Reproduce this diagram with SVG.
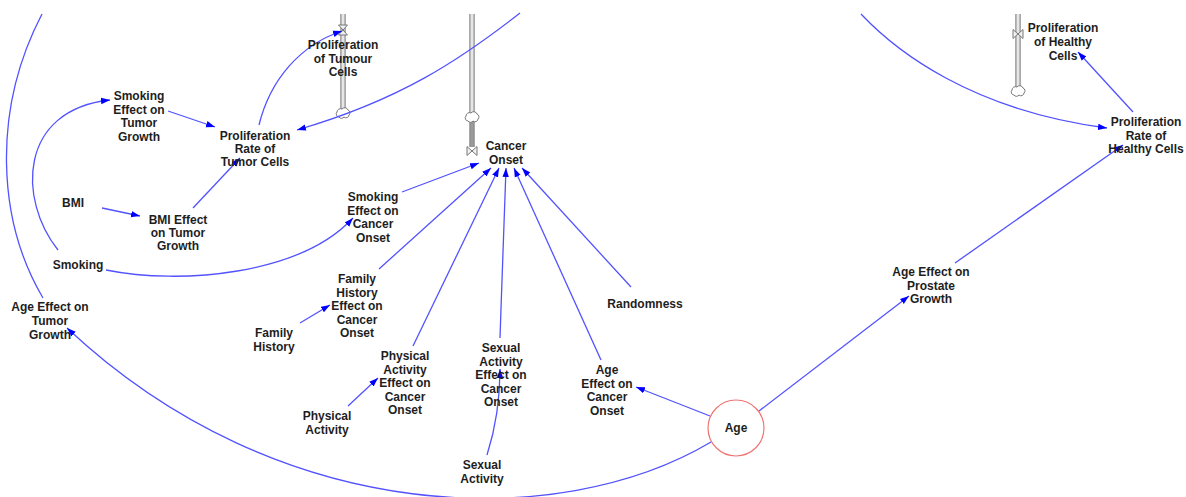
<svg xmlns="http://www.w3.org/2000/svg" width="1186" height="497" viewBox="0 0 1186 497">
  <defs>
    <style>
      .lbl { font-family: "Liberation Sans", Arial, sans-serif; font-size: 12px; font-weight: bold; fill: #1e1e1e; text-anchor: middle; }
      .link { fill: none; stroke: #5252ff; stroke-width: 1.3; }
      .arrow { marker-end: url(#ah); }
      .pipe-out { fill: none; stroke: #8c8c8c; stroke-width: 5.5; }
      .pipe-in { fill: none; stroke: #e6e6e6; stroke-width: 3; }
      .pipe-in-dark { fill: none; stroke: #9a9a9a; stroke-width: 3; }
      .valve { fill: #f2f2f2; stroke: #777; stroke-width: 1; }
      .cloud { fill: #fff; stroke: #777; stroke-width: 1; }
      .aux { fill: #fff; stroke: #f07272; stroke-width: 1.2; }
    </style>
    <marker id="ah" markerWidth="10" markerHeight="8" refX="9" refY="3.5" orient="auto" markerUnits="userSpaceOnUse">
      <path d="M0,0.3 L9,3.5 L0,6.7 z" fill="#0000ff"/>
    </marker>
    <path id="cloud-shape" class="cloud" d="M-4,4 a3,3 0 0 1 -2,-5 a3.5,3.5 0 0 1 5,-3 a3.5,3.5 0 0 1 6,1 a3,3 0 0 1 1,5 a3,3 0 0 1 -5,2 a3,3 0 0 1 -5,0 z"/>
    <path id="valve-v" class="valve" d="M-4.5,-5 L4.5,-5 L-4.5,5 L4.5,5 Z"/>
    <path id="valve-h" class="valve" d="M-5,-4.5 L5,4.5 L5,-4.5 L-5,4.5 Z"/>
  </defs>

  <rect width="1186" height="497" fill="#fff"/>

  <!-- stock/flow pipes -->
  <g id="flow-tumour">
    <path class="pipe-out" d="M343,14 V109"/>
    <path class="pipe-in" d="M343,14 V109"/>
    <use href="#valve-v" x="343" y="30"/>
    <use href="#cloud-shape" x="343" y="113"/>
  </g>
  <g id="flow-cancer-onset">
    <path class="pipe-out" d="M472,14 V113"/>
    <path class="pipe-in" d="M472,14 V113"/>
    <path class="pipe-out" d="M472,121 V147"/>
    <path class="pipe-in-dark" d="M472,121 V147"/>
    <use href="#cloud-shape" x="472" y="117"/>
    <use href="#valve-h" x="472" y="151"/>
  </g>
  <g id="flow-healthy">
    <path class="pipe-out" d="M1018,14 V87"/>
    <path class="pipe-in" d="M1018,14 V87"/>
    <use href="#valve-h" x="1018" y="34"/>
    <use href="#cloud-shape" x="1018" y="91"/>
  </g>

  <!-- connectors -->
  <g id="connectors">
    <path class="link arrow" d="M168,111 L215,127"/>
    <path class="link arrow" d="M102,208 L140,216"/>
    <path class="link arrow" d="M193,208 L240,158"/>
    <path class="link arrow" d="M58,250 C18,200 18,110 110,100"/>
    <path class="link arrow" d="M259,125 C270,80 300,45 342,31"/>
    <path class="link arrow" d="M520,13 C460,60 400,100 297,130"/>
    <path class="link arrow" d="M106,270 C180,285 300,275 353,218"/>
    <path class="link arrow" d="M402,192 L479,163"/>
    <path class="link arrow" d="M300,323 L330,305"/>
    <path class="link arrow" d="M379,269 L491,168"/>
    <path class="link arrow" d="M348,406 L378,378"/>
    <path class="link arrow" d="M413,346 L499,168"/>
    <path class="link arrow" d="M487,455 C495,430 500,400 500,369"/>
    <path class="link arrow" d="M500,338 C502,280 504,220 506,168"/>
    <path class="link arrow" d="M601,360 L514,168"/>
    <path class="link arrow" d="M631,287 L522,168"/>
    <path class="link arrow" d="M710,416 L636,387"/>
    <path class="link arrow" d="M759,411 L909,296"/>
    <path class="link arrow" d="M955,263 L1123,145"/>
    <path class="link arrow" d="M861,14 C895,50 970,110 1107,128"/>
    <path class="link arrow" d="M1133,112 L1078,52"/>
    <path class="link arrow" d="M711,442 C560,532 280,528 67,328"/>
    <path class="link" d="M43,298 C-3,220 -8,110 42,14"/>
  </g>

  <!-- nodes -->
  <g id="proliferation-of-tumour-cells">
    <text class="lbl" x="343" y="49">Proliferation<tspan x="343" dy="13.5">of Tumour</tspan><tspan x="343" dy="13.5">Cells</tspan></text>
  </g>
  <g id="cancer-onset">
    <text class="lbl" x="506" y="150">Cancer<tspan x="506" dy="13.5">Onset</tspan></text>
  </g>
  <g id="proliferation-of-healthy-cells">
    <text class="lbl" x="1063" y="32">Proliferation<tspan x="1063" dy="14">of Healthy</tspan><tspan x="1063" dy="14">Cells</tspan></text>
  </g>
  <g id="proliferation-rate-of-healthy-cells">
    <text class="lbl" x="1146" y="126">Proliferation<tspan x="1146" dy="13.5">Rate of</tspan><tspan x="1146" dy="13.5">Healthy Cells</tspan></text>
  </g>
  <g id="age-effect-on-prostate-growth">
    <text class="lbl" x="931" y="276">Age Effect on<tspan x="931" dy="13.5">Prostate</tspan><tspan x="931" dy="13.5">Growth</tspan></text>
  </g>
  <g id="age">
    <circle class="aux" cx="736" cy="428" r="28"/>
    <text class="lbl" x="736" y="432">Age</text>
  </g>
  <g id="age-effect-on-cancer-onset">
    <text class="lbl" x="607" y="374">Age<tspan x="607" dy="13.5">Effect on</tspan><tspan x="607" dy="13.5">Cancer</tspan><tspan x="607" dy="13.5">Onset</tspan></text>
  </g>
  <g id="randomness">
    <text class="lbl" x="645" y="308">Randomness</text>
  </g>
  <g id="sexual-activity-effect-on-cancer-onset">
    <text class="lbl" x="501" y="352">Sexual<tspan x="501" dy="13.6">Activity</tspan><tspan x="501" dy="13.6">Effect on</tspan><tspan x="501" dy="13.6">Cancer</tspan><tspan x="501" dy="13.6">Onset</tspan></text>
  </g>
  <g id="sexual-activity">
    <text class="lbl" x="482" y="469">Sexual<tspan x="482" dy="13.5">Activity</tspan></text>
  </g>
  <g id="physical-activity-effect-on-cancer-onset">
    <text class="lbl" x="405" y="360">Physical<tspan x="405" dy="13.5">Activity</tspan><tspan x="405" dy="13.5">Effect on</tspan><tspan x="405" dy="13.5">Cancer</tspan><tspan x="405" dy="13.5">Onset</tspan></text>
  </g>
  <g id="physical-activity">
    <text class="lbl" x="327" y="420">Physical<tspan x="327" dy="13.5">Activity</tspan></text>
  </g>
  <g id="family-history-effect-on-cancer-onset">
    <text class="lbl" x="357" y="283">Family<tspan x="357" dy="13.5">History</tspan><tspan x="357" dy="13.5">Effect on</tspan><tspan x="357" dy="13.5">Cancer</tspan><tspan x="357" dy="13.5">Onset</tspan></text>
  </g>
  <g id="family-history">
    <text class="lbl" x="274" y="337">Family<tspan x="274" dy="13.5">History</tspan></text>
  </g>
  <g id="smoking-effect-on-cancer-onset">
    <text class="lbl" x="373" y="201">Smoking<tspan x="373" dy="13.7">Effect on</tspan><tspan x="373" dy="13.7">Cancer</tspan><tspan x="373" dy="13.7">Onset</tspan></text>
  </g>
  <g id="smoking">
    <text class="lbl" x="78" y="269">Smoking</text>
  </g>
  <g id="age-effect-on-tumor-growth">
    <text class="lbl" x="50" y="311">Age Effect on<tspan x="50" dy="13.8">Tumor</tspan><tspan x="50" dy="13.8">Growth</tspan></text>
  </g>
  <g id="proliferation-rate-of-tumor-cells">
    <text class="lbl" x="255" y="140">Proliferation<tspan x="255" dy="13">Rate of</tspan><tspan x="255" dy="13">Tumor Cells</tspan></text>
  </g>
  <g id="smoking-effect-on-tumor-growth">
    <text class="lbl" x="139" y="100">Smoking<tspan x="139" dy="13.6">Effect on</tspan><tspan x="139" dy="13.6">Tumor</tspan><tspan x="139" dy="13.6">Growth</tspan></text>
  </g>
  <g id="bmi">
    <text class="lbl" x="73" y="207">BMI</text>
  </g>
  <g id="bmi-effect-on-tumor-growth">
    <text class="lbl" x="178" y="224">BMI Effect<tspan x="178" dy="13">on Tumor</tspan><tspan x="178" dy="13">Growth</tspan></text>
  </g>
</svg>
